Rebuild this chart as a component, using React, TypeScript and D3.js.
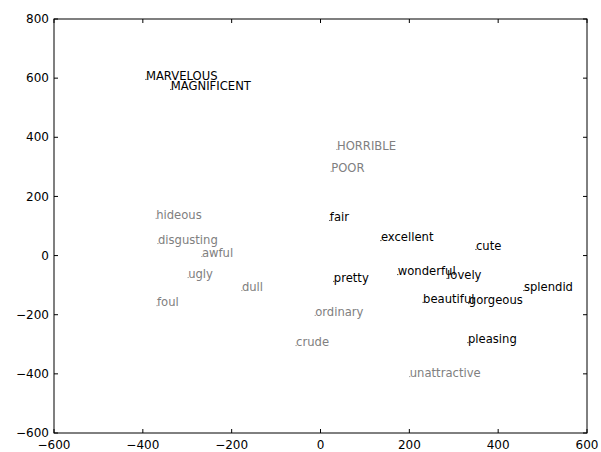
import React from 'react';
import * as d3 from 'd3';

// words and their 2-D embedding coordinates
const words = [
  'MARVELOUS', 'MAGNIFICENT', 'HORRIBLE', 'POOR',
  'hideous', 'disgusting', 'awful', 'ugly', 'dull', 'foul',
  'ordinary', 'crude', 'unattractive',
  'fair', 'excellent', 'cute', 'pretty', 'wonderful', 'lovely',
  'splendid', 'beautiful', 'gorgeous', 'pleasing'
];
const xs = [
  -393, -337, 37, 24,
  -370, -366, -267, -298, -177, -368,
  -12, -55, 201,
  21, 136, 350, 30, 174, 285,
  458, 231, 334, 332
];
const ys = [
  594, 560, 357, 283,
  124, 39, -5, -76, -120, -171,
  -204, -306, -411,
  117, 49, 19, -89, -66, -79,
  -120, -160, -164, -296
];
// true = positive (black), false = negative (gray)
const positive = [
  true, true, false, false,
  false, false, false, false, false, false,
  false, false, false,
  true, true, true, true, true, true,
  true, true, true, true
];

const xTicks = [-600, -400, -200, 0, 200, 400, 600];
const yTicks = [-600, -400, -200, 0, 200, 400, 600, 800];

const W = 601;
const H = 452;
const left = 54, right = 587, top = 19, bottom = 433;
const font = 'DejaVu Sans, sans-serif';

const fmt = (v: number) => (v < 0 ? '\u2212' + Math.abs(v) : String(v));

export default function App() {
  const x = d3.scaleLinear().domain([-600, 600]).range([left, right]);
  const y = d3.scaleLinear().domain([-600, 800]).range([bottom, top]);

  return (
    <svg width={W} height={H} style={{ position: 'absolute', left: 0, top: 0, background: '#fff' }}>
      <rect x={0} y={0} width={W} height={H} fill="#fff" />
      {words.map((w, i) => {
        const col = positive[i] ? '#000' : '#808080';
        const px = x(xs[i]);
        const py = y(ys[i]);
        return (
          <g key={w}>
            <rect x={px - 0.5} y={py - 1} width={1} height={1} fill={col} />
            <text x={px} y={py} fontFamily={font} fontSize={11.6} fill={col}>{w}</text>
          </g>
        );
      })}
      {/* ticks, inside on all four sides */}
      {xTicks.map(t => (
        <g key={'x' + t}>
          <line x1={x(t)} x2={x(t)} y1={bottom} y2={bottom - 4} stroke="#000" />
          <line x1={x(t)} x2={x(t)} y1={top} y2={top + 4} stroke="#000" />
          <text x={x(t)} y={449} textAnchor="middle" fontFamily={font} fontSize={12} fill="#000">{fmt(t)}</text>
        </g>
      ))}
      {yTicks.map(t => (
        <g key={'y' + t}>
          <line x1={left} x2={left + 4} y1={y(t)} y2={y(t)} stroke="#000" />
          <line x1={right} x2={right - 4} y1={y(t)} y2={y(t)} stroke="#000" />
          <text x={49} y={y(t)} dy="0.35em" textAnchor="end" fontFamily={font} fontSize={12} fill="#000">{fmt(t)}</text>
        </g>
      ))}
      <rect x={left} y={top} width={right - left} height={bottom - top} fill="none" stroke="#000" strokeWidth={1} />
    </svg>
  );
}
